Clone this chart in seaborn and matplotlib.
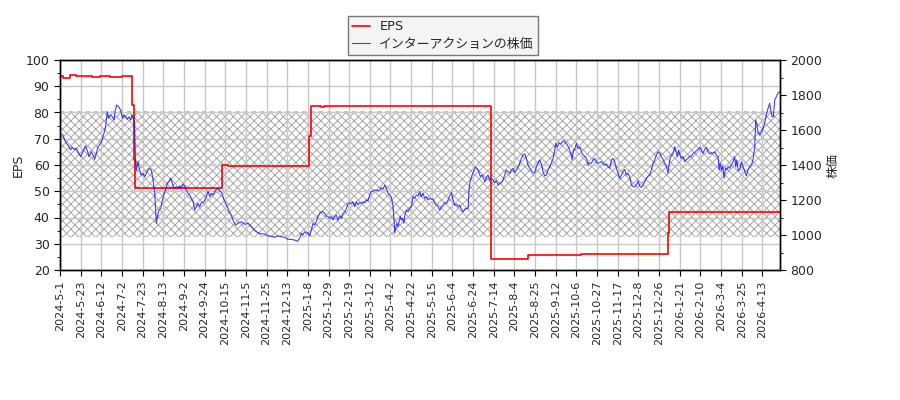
import matplotlib
matplotlib.use("Agg")
import matplotlib.pyplot as plt
import matplotlib.ticker as mticker
import seaborn as sns
import numpy as np

sns.set_style("white")
plt.rcParams['font.family'] = ['DejaVu Sans', 'Noto Sans CJK JP']
plt.rcParams['hatch.linewidth'] = 0.7

# ---- data ----
tick_labels = ["2024-5-1", "2024-5-23", "2024-6-12", "2024-7-2", "2024-7-23", "2024-8-13",
               "2024-9-2", "2024-9-24", "2024-10-15", "2024-11-5", "2024-11-25", "2024-12-13",
               "2025-1-8", "2025-1-29", "2025-2-19", "2025-3-12", "2025-4-2", "2025-4-22",
               "2025-5-15", "2025-6-4", "2025-6-24", "2025-7-14", "2025-8-4", "2025-8-25",
               "2025-9-12", "2025-10-6", "2025-10-27", "2025-11-17", "2025-12-8", "2025-12-26",
               "2026-1-21", "2026-2-10", "2026-3-4", "2026-3-25", "2026-4-13"]
tick_step = 14
n_days = 489

eps_day = [0, 2, 7, 11, 22, 27, 34, 42, 49, 50, 51, 110, 114, 169, 170, 177, 179, 209, 214,
           292, 317, 353, 412, 413, 488]
eps_val = [93.8, 93.3, 94.1, 93.8, 93.5, 93.8, 93.5, 93.8, 83.0, 62.0, 51.1, 60.0, 59.6, 71.0,
           82.3, 82.0, 82.3, 82.6, 82.3, 24.1, 25.6, 26.1, 34.2, 42.0, 42.0]

price_day = [0.0, 2.0, 3.2, 4.3, 5.4, 7.2, 8.1, 9.9, 11.1, 12.7, 14.0, 15.6, 17.2, 18.5, 19.7,
             21.2, 22.4, 23.5, 24.6, 25.8, 27.6, 28.5, 29.8, 30.7, 32.1, 33.0, 34.3, 35.5, 36.6,
             37.5, 38.4, 39.8, 41.1, 42.3, 43.4, 44.5, 45.6, 46.8, 47.9, 48.8, 49.7, 50.6, 51.1,
             51.8, 52.9, 54.0, 55.1, 56.3, 57.4, 58.5, 59.7, 60.8, 61.9, 63.1, 64.2, 65.3, 66.0,
             67.1, 68.3, 69.4, 70.5, 71.6, 72.8, 73.9, 75.0, 76.2, 77.3, 78.9, 80.0, 81.1, 82.3,
             83.4, 84.5, 85.7, 86.8, 87.9, 89.0, 90.2, 91.3, 92.4, 93.6, 94.7, 95.8, 97.6, 99.2,
             100.3, 101.5, 102.6, 103.7, 104.9, 106.7, 108.3, 109.8, 111.2, 112.3, 113.5, 114.6,
             115.7, 116.8, 118.0, 119.1,
             120.6, 122.9, 125.2, 127.4, 129.7, 132.0, 134.2, 136.5, 138.7, 141.0, 143.2, 145.5,
             147.8, 150.0, 152.3, 154.5, 156.8, 159.1, 160.9, 162.5, 163.6, 164.7, 165.8, 167.0,
             168.1, 169.2, 170.4, 171.5, 172.6, 173.7, 174.9, 176.0, 177.1, 178.3, 179.4, 180.5,
             181.7, 182.8, 183.9, 185.1, 186.2, 187.3, 188.4, 189.6, 190.7, 191.8, 193.0, 194.1,
             195.2, 196.4, 197.5, 198.6, 199.7, 200.9, 202.0, 203.1, 204.3, 205.4, 206.5, 207.7,
             208.8, 209.9, 211.0, 212.2, 213.3, 214.4, 215.6, 216.7, 217.8, 218.9, 220.1, 221.2,
             222.3, 223.5, 224.6, 225.7, 226.4, 226.9, 227.5, 228.2, 229.1, 229.8, 230.7, 231.4,
             232.1, 233.0, 233.6, 234.8, 235.9, 237.0, 238.2, 239.3, 240.4, 241.6, 242.7,
             243.8, 244.9, 246.0, 247.2, 248.3, 249.4, 250.6, 251.7, 252.8, 254.0, 255.1, 256.2,
             257.3, 258.5, 259.6, 260.7, 261.9, 263.0, 264.1, 265.3, 266.4, 267.5, 268.6, 269.8,
             270.9, 272.0, 273.2, 274.3, 275.4, 276.6, 277.2, 278.1, 279.3, 280.4, 281.5, 282.7,
             283.8, 284.9, 286.0, 287.2, 287.9, 289.0, 290.1, 291.2, 292.4, 293.5, 294.6, 295.8,
             296.9, 298.0, 299.2, 300.3, 301.4, 302.5, 303.7, 304.8, 305.9, 307.1, 308.2, 309.3,
             310.5, 311.6, 312.7, 313.8, 315.0, 316.1, 317.2, 318.4, 319.5, 320.6, 321.7, 322.9,
             324.0, 325.1, 326.3, 327.4, 328.5, 329.7, 330.8, 331.9, 333.1, 334.2, 335.3, 336.0,
             337.1, 338.0, 339.4, 340.5, 341.6, 342.8, 343.9, 345.0, 346.2, 347.1, 348.0, 348.9,
             350.0, 351.1, 352.3, 353.4, 354.5, 355.7, 356.8, 357.9, 359.0, 360.2, 361.3, 362.4,
             363.6, 364.7,
             365.8, 366.9, 368.0, 369.2, 370.3, 371.4, 372.6, 373.7, 374.8, 376.0, 377.1, 378.2,
             379.3, 380.5, 381.6, 382.7, 383.9, 385.0, 386.1, 387.3, 388.4, 389.5, 390.6, 391.8,
             392.9, 394.0, 395.2, 396.3, 397.4, 398.6, 399.7, 400.8, 401.9, 403.1, 404.2, 405.3,
             406.5, 407.6, 408.7, 409.9, 411.0, 412.1, 412.6, 413.7, 414.8, 415.7, 416.6, 417.5,
             418.4, 419.3, 420.2, 421.2, 422.3, 423.4, 424.5, 425.7, 426.8, 427.9, 429.1, 430.2,
             431.3, 432.5, 433.6, 434.7, 435.8, 437.0, 438.1, 439.2, 440.4, 441.5, 442.6, 443.8,
             444.9, 446.0, 446.7, 447.4, 448.3, 449.2, 450.1, 451.0, 451.9, 452.8, 453.9, 455.0,
             456.2, 457.3, 458.0, 458.7, 459.6, 460.7, 461.8, 463.0, 464.1, 465.2, 466.3, 467.5,
             468.6, 469.7, 470.9, 471.5, 472.4, 473.1, 474.2, 475.4, 476.5, 477.6, 478.7, 479.9,
             481.0, 481.7, 482.6, 483.5, 484.4, 485.5, 486.7, 488.0]

price_val = [1581, 1571, 1543, 1524, 1514, 1486, 1501, 1490, 1495, 1467, 1448, 1476, 1509, 1482,
             1448, 1476, 1457, 1432, 1467, 1505, 1524, 1543, 1581, 1610, 1705, 1667, 1686, 1676,
             1657, 1714, 1743, 1733, 1714, 1667, 1686, 1676, 1661, 1676, 1657, 1686, 1667, 1619,
             1448, 1371, 1419, 1371, 1343, 1352, 1333, 1352, 1371, 1381, 1371, 1314, 1238, 1067,
             1105, 1143, 1152, 1200, 1238, 1257, 1295, 1305, 1324, 1295, 1267, 1276, 1267, 1280,
             1267, 1291, 1280, 1257, 1238, 1229, 1210, 1190, 1143, 1162, 1181, 1162, 1185, 1190,
             1219, 1248, 1219, 1238, 1229, 1248, 1267, 1253, 1238, 1200, 1181, 1162, 1133, 1120,
             1095, 1070, 1057,
             1067, 1076, 1061, 1067, 1048, 1025, 1013, 1006, 1006, 994, 994, 987,
             996, 990, 987, 975, 975, 971, 964, 981, 1010, 1000, 1019, 1010,
             1013, 994, 1029, 1067, 1057, 1076, 1105, 1124, 1133, 1133, 1124, 1109,
             1105, 1095, 1105, 1086, 1105, 1114, 1086, 1109, 1095, 1124, 1133, 1152,
             1177, 1185, 1177, 1190, 1162, 1190, 1171, 1185, 1181, 1190, 1185, 1200,
             1196, 1229, 1248, 1251, 1257, 1257, 1253, 1257, 1272, 1261, 1286, 1267,
             1238, 1229, 1215, 1162, 1086, 1010, 1038, 1067, 1048, 1076, 1105, 1086,
             1095, 1067, 1105, 1143, 1133, 1152, 1162, 1219, 1210, 1229, 1223,
             1248, 1219, 1238, 1210, 1219, 1200, 1210, 1204, 1204, 1181, 1171, 1162,
             1143, 1162, 1171, 1185, 1181, 1200, 1223, 1242, 1200, 1171, 1177, 1162,
             1171, 1147, 1133, 1147, 1152, 1152, 1257, 1314, 1343, 1362, 1387, 1381,
             1362, 1333, 1343, 1324, 1305, 1330, 1343, 1314, 1324, 1314, 1299, 1310,
             1286, 1295, 1299, 1314, 1343, 1371, 1362, 1352, 1371, 1381, 1356, 1371,
             1387, 1410, 1438, 1457, 1463, 1438, 1400, 1381, 1368, 1356, 1356, 1390,
             1410, 1429, 1406, 1362, 1337, 1343, 1371, 1390, 1413, 1438, 1486, 1524,
             1501, 1524, 1520, 1533, 1539, 1524, 1514, 1495, 1467, 1429, 1486, 1490,
             1524, 1495, 1501, 1476, 1457, 1448, 1438, 1400, 1413, 1410, 1429, 1438,
             1419, 1410,
             1413, 1419, 1410, 1400, 1406, 1390, 1381, 1429, 1438, 1419, 1381, 1352,
             1324, 1343, 1362, 1375, 1343, 1352, 1333, 1286, 1276, 1276, 1286, 1310,
             1280, 1272, 1286, 1305, 1324, 1337, 1343, 1371, 1410, 1429, 1457, 1476,
             1467, 1448, 1432, 1410, 1394, 1352, 1390, 1448, 1457, 1470, 1505, 1476,
             1448, 1486, 1457, 1438, 1448, 1419, 1432, 1438, 1451, 1448, 1467, 1470,
             1482, 1490, 1501, 1486, 1467, 1490, 1501, 1476, 1463, 1470, 1467, 1476,
             1457, 1448, 1371, 1410, 1371, 1394, 1324, 1381, 1371, 1390, 1381, 1400,
             1419, 1448, 1390, 1429, 1371, 1371, 1419, 1390, 1362, 1337, 1371, 1390,
             1400, 1429, 1505, 1657, 1629, 1590, 1571, 1590, 1610, 1638, 1686, 1724,
             1752, 1714, 1676, 1676, 1771, 1790, 1813, 1819]

band_low = 32.5
band_high = 80.7

# ---- figure ----
FS_X = 8
FS = 9
fig = plt.figure(figsize=(9, 4), dpi=100)
ax = fig.add_axes([60/900, 1-270/400, 720/900, 210/400])
ax2 = ax.twinx()

ax.axhspan(band_low, band_high, facecolor='none', edgecolor='#a8a8a8', hatch='xxxx', linewidth=0, zorder=0)

sns.lineplot(x=eps_day, y=eps_val, ax=ax, color='red', linewidth=1.2, drawstyle='steps-post',
             estimator=None, sort=False, label='EPS', legend=False)
sns.lineplot(x=price_day, y=price_val, ax=ax2, color='blue', alpha=0.75, linewidth=0.8,
             estimator=None, sort=False, label='インターアクションの株価', legend=False)

ax.set_xlim(0, n_days - 1)
ax.set_ylim(20, 100)
ax2.set_ylim(800, 2000)

ticks = [i * tick_step for i in range(len(tick_labels))]
ax.set_xticks(ticks)
ax.set_xticklabels(tick_labels, rotation=90)
ax.yaxis.set_major_locator(mticker.MultipleLocator(10))
ax.yaxis.set_minor_locator(mticker.MultipleLocator(5))
ax2.yaxis.set_major_locator(mticker.MultipleLocator(200))
ax2.yaxis.set_minor_locator(mticker.MultipleLocator(100))

ax.grid(True, which='major', color='#c8c8c8', linewidth=1)
ax.set_axisbelow(True)
ax2.grid(False)

for a in (ax, ax2):
    for s in a.spines.values():
        s.set_color('black')
        s.set_linewidth(1)
ax.tick_params(axis='both', which='both', direction='out', color='black',
               left=True, bottom=True, length=4)
ax.tick_params(axis='x', labelsize=FS_X)
ax.tick_params(axis='y', labelsize=FS)
ax.tick_params(axis='y', which='minor', length=2.5)
ax2.tick_params(axis='y', which='both', direction='out', color='black', labelsize=FS, right=True, length=4)
ax2.tick_params(axis='y', which='minor', length=2.5)

ax.set_ylabel('EPS', fontsize=FS, labelpad=1)
ax2.set_ylabel('株価', fontsize=FS, labelpad=3)
ax.set_xlabel('')
ax2.set_xlabel('')

h1, l1 = ax.get_legend_handles_labels()
h2, l2 = ax2.get_legend_handles_labels()
leg = fig.legend(h1 + h2, l1 + l2, loc='upper center', bbox_to_anchor=(443/900, 1 - 10/400),
                 fancybox=False, framealpha=1, facecolor='#f4f4f4', edgecolor='#777777',
                 fontsize=9.3, borderpad=0.3, labelspacing=0.35, handlelength=1.4,
                 handletextpad=0.7)

fig.savefig('out.png', dpi=100)
